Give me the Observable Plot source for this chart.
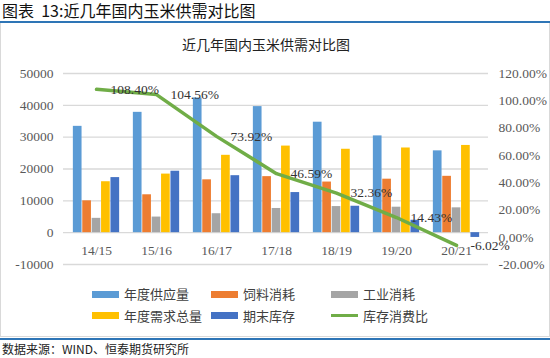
<!DOCTYPE html>
<html><head><meta charset="utf-8">
<script src="https://cdn.jsdelivr.net/npm/d3@7"></script>
<script src="https://cdn.jsdelivr.net/npm/@observablehq/plot@0.6"></script>
<style>
body{margin:0;background:#fff;width:550px;height:358px;overflow:hidden;position:relative;font-family:"Noto Sans CJK SC",sans-serif;}
.abs{position:absolute;white-space:nowrap;}
#hdr{left:2px;top:0px;font-size:16px;line-height:20px;color:#111;}
#bl1{left:0;top:21px;width:550px;height:2px;background:#2E75B6;}
#box{left:0;top:23px;width:548px;height:313px;border:1px solid #d9d9d9;border-top:none;}
#title{left:0;top:34px;width:532px;text-align:center;font-size:14px;line-height:20px;color:#222;}
#chart{left:0;top:55px;}
#bl2{left:0;top:338px;width:550px;height:2px;background:#2E75B6;}
#cap{left:2px;top:341px;font-size:12px;line-height:16px;color:#222;}
.lg{position:absolute;white-space:nowrap;font-size:13px;color:#404040;line-height:16px;}
.sw{position:absolute;width:27px;height:7px;}
</style></head>
<body>
<div id="hdr" class="abs">图表&nbsp;&nbsp;13:近几年国内玉米供需对比图</div>
<div id="bl1" class="abs"></div>
<div id="box" class="abs"></div>
<div id="title" class="abs">近几年国内玉米供需对比图</div>
<div id="chart" class="abs"></div>
<div id="legend" class="abs" style="left:0;top:0;width:550px;height:358px;"></div>
<div id="bl2" class="abs"></div>
<div id="cap" class="abs">数据来源：WIND、恒泰期货研究所</div>
<script>
const categories = ["14/15","15/16","16/17","17/18","18/19","19/20","20/21"];
const seriesNames = ["年度供应量","饲料消耗","工业消耗","年度需求总量","期末库存"];
const supply   = [33400, 37800, 42300, 39600, 34700, 30400, 25700];
const feed     = [10000, 11900, 16600, 17600, 15900, 16800, 17700];
const industry = [4500, 4900, 5950, 7600, 8200, 8000, 7800];
const demand   = [16000, 18400, 24300, 27200, 26200, 26600, 27400];
const stock    = [17300, 19300, 17900, 12600, 8300, 3900, -1500];
const ratio    = [108.40, 104.56, 73.92, 46.59, 32.36, 14.43, -6.02];
const lineName = "库存消费比";
const leftTicks = [-10000, 0, 10000, 20000, 30000, 40000, 50000];
const rightTicks = [-20, 0, 20, 40, 60, 80, 100, 120];
const colors = ["#5B9BD5","#ED7D31","#A5A5A5","#FFC000","#4472C4"];
const lineColor = "#70AD47";

const seriesVals = [supply, feed, industry, demand, stock];
// map right-axis percentage onto left-axis units (-20%..120% <-> -10000..50000)
const toLeft = p => -10000 + (p + 20) * 60000 / 140;

const W = 550, H = 220, mL = 63, mR = 62;
const bandW = (W - mL - mR) / categories.length;
const barW = 9.4;
const inset = (bandW - barW) / 2;

const numFont = "'Liberation Serif', serif";
const marks = [
  Plot.ruleY(leftTicks, {stroke: "#d9d9d9", strokeWidth: 1.3}),
];
seriesVals.forEach((vals, i) => {
  const rows = categories.map((c, j) => ({cat: c, v: vals[j]}));
  marks.push(Plot.barY(rows, {x: "cat", y: "v", fill: colors[i], insetLeft: inset, insetRight: inset, dx: (i - 2) * barW}));
});
const lineRows = categories.map((c, j) => ({cat: c, p: ratio[j]}));
marks.push(Plot.line(lineRows, {x: "cat", y: d => toLeft(d.p), stroke: lineColor, strokeWidth: 3.5, strokeLinejoin: "round"}));
marks.push(Plot.text(lineRows, {x: "cat", y: d => toLeft(d.p), text: d => d.p.toFixed(2) + "%", textAnchor: "start", dx: 14, fill: "#333", fontSize: 13.5, fontFamily: numFont}));
marks.push(Plot.text(categories, {x: d => d, y: () => 0, text: d => d, dy: 18, fill: "#595959", fontSize: 13.5, fontFamily: numFont}));
marks.push(Plot.axisY(leftTicks, {anchor: "left", label: null, tickSize: 0, tickPadding: 10, tickFormat: d => String(d), fill: "#595959", fontSize: 13.5, fontFamily: numFont}));
marks.push(Plot.axisY(rightTicks.map(toLeft), {anchor: "right", label: null, tickSize: 0, tickPadding: 10, tickFormat: (d, i) => rightTicks[i].toFixed(2) + "%", fill: "#595959", fontSize: 13.5, fontFamily: numFont}));

const plot = Plot.plot({
  width: W, height: H,
  marginLeft: mL, marginRight: mR, marginTop: 18, marginBottom: 11,
  x: {domain: categories, padding: 0, axis: null},
  y: {domain: [-10000, 50000], axis: null},
  style: {background: "transparent", overflow: "visible"},
  marks
});
document.getElementById("chart").appendChild(plot);

// legend
const legend = document.getElementById("legend");
const items = [
  {name: seriesNames[0], color: colors[0], sx: 92, row: 0},
  {name: seriesNames[1], color: colors[1], sx: 211, row: 0},
  {name: seriesNames[2], color: colors[2], sx: 331, row: 0},
  {name: seriesNames[3], color: colors[3], sx: 92, row: 1},
  {name: seriesNames[4], color: colors[4], sx: 211, row: 1},
  {name: lineName, color: lineColor, sx: 331, row: 1, line: true},
];
items.forEach(it => {
  const cy = it.row === 0 ? 294 : 315.5;
  const sw = document.createElement("div");
  sw.className = "sw";
  sw.style.left = it.sx + "px";
  sw.style.background = it.color;
  if (it.line) { sw.style.height = "3px"; sw.style.top = (cy - 1.5) + "px"; }
  else { sw.style.top = (cy - 3.5) + "px"; }
  legend.appendChild(sw);
  const t = document.createElement("div");
  t.className = "lg";
  t.textContent = it.name;
  t.style.left = (it.sx + 32) + "px";
  t.style.top = (cy - 8) + "px";
  legend.appendChild(t);
});
</script>
</body></html>
